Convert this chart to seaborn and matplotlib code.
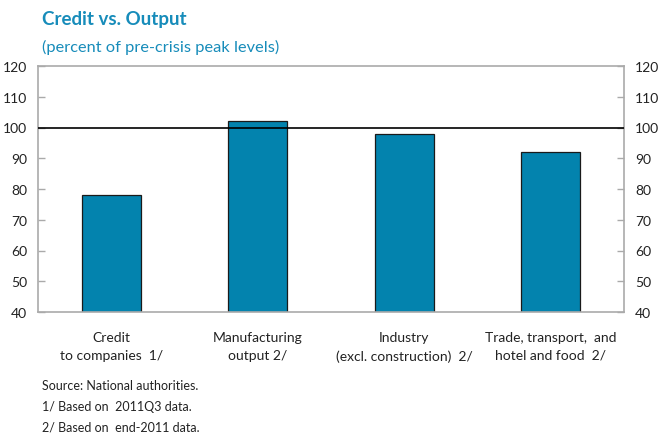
import matplotlib
matplotlib.use("Agg")
import matplotlib.pyplot as plt
import seaborn as sns
import pandas as pd

categories = ["Credit\nto companies  1/", "Manufacturing\noutput 2/",
              "Industry\n(excl. construction)  2/", "Trade, transport,  and\nhotel and food  2/"]
values = [78, 102, 98, 92]
yticks = [40, 50, 60, 70, 80, 90, 100, 110, 120]

sns.set_theme(style="white")
plt.rcParams["font.family"] = ["Lato", "DejaVu Sans"]

df = pd.DataFrame({"category": categories, "value": values})

fig = plt.figure(figsize=(6.6, 4.35), dpi=100)
ax = fig.add_axes([38 / 660, 1 - 313 / 435, 586 / 660, 246 / 435])

bar_color = "#0383AE"
sns.barplot(data=df, x="category", y="value", color=bar_color, width=0.4,
            edgecolor="#1a1a1a", linewidth=0.9, saturation=1, ax=ax)

ax.set_ylim(40, 120)
ax.set_xlim(-0.5, len(categories) - 0.5)
ax.axhline(100, color="black", lw=1.2, zorder=3)

ax.set_yticks(yticks)
ax.set_yticklabels([str(t) for t in yticks])
ax.tick_params(axis="y", direction="in", length=5, color="#aaaaaa", width=1,
               labelsize=10, labelcolor="#222222", left=True, right=True,
               labelleft=True, labelright=True, pad=8)
ax.tick_params(axis="x", length=0, labelsize=10, labelcolor="#222222", pad=14)
for lbl in ax.get_xticklabels():
    lbl.set_linespacing(1.55)
ax.set_xlabel("")
ax.set_ylabel("")
for s in ax.spines.values():
    s.set_color("#aaaaaa")
    s.set_linewidth(1.2)

title_color = "#178CBA"
fig.text(42 / 660, 1 - 20 / 435, "Credit vs. Output", color=title_color,
         fontsize=13.5, fontweight="bold", va="center", ha="left")
fig.text(42 / 660, 1 - 47 / 435, "(percent of pre-crisis peak levels)", color=title_color,
         fontsize=11.8, va="center", ha="left")

notes = ["Source: National authorities.", "1/ Based on  2011Q3 data.", "2/ Based on  end-2011 data."]
for i, n in enumerate(notes):
    fig.text(42 / 660, 1 - (386 + 21 * i) / 435, n, fontsize=9, color="#222222",
             va="center", ha="left")

fig.savefig("out.png", dpi=100)
